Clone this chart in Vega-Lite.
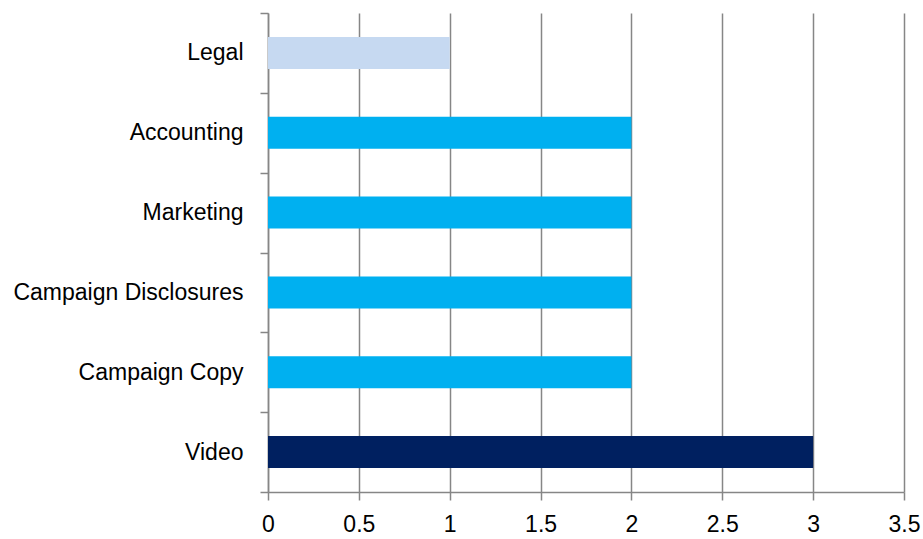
{
  "$schema": "https://vega.github.io/schema/vega-lite/v6.json",
  "width": 636,
  "height": 479,
  "autosize": {"type": "none"},
  "padding": {"left": 268, "top": 13, "right": 19, "bottom": 47},
  "background": "white",
  "data": {
    "values": [
      {"category": "Legal", "value": 1, "group": "a"},
      {"category": "Accounting", "value": 2, "group": "b"},
      {"category": "Marketing", "value": 2, "group": "b"},
      {"category": "Campaign Disclosures", "value": 2, "group": "b"},
      {"category": "Campaign Copy", "value": 2, "group": "b"},
      {"category": "Video", "value": 3, "group": "c"}
    ]
  },
  "config": {
    "view": {"stroke": null},
    "font": "Liberation Sans"
  },
  "mark": {"type": "bar", "height": {"band": 0.4}},
  "encoding": {
    "y": {
      "field": "category",
      "type": "nominal",
      "sort": null,
      "scale": {"paddingInner": 0, "paddingOuter": 0},
      "axis": {
        "title": null,
        "domainColor": "#868686",
        "domainWidth": 1.5,
        "tickColor": "#868686",
        "tickWidth": 1.5,
        "tickSize": 8,
        "tickBand": "extent",
        "labelPadding": 17,
        "labelFontSize": 23,
        "labelLimit": 300,
        "labelColor": "#000000",
        "grid": false
      }
    },
    "x": {
      "field": "value",
      "type": "quantitative",
      "scale": {"domain": [0, 3.5], "nice": false},
      "axis": {
        "title": null,
        "values": [0, 0.5, 1, 1.5, 2, 2.5, 3, 3.5],
        "format": "~g",
        "domainColor": "#868686",
        "domainWidth": 1.5,
        "tickColor": "#868686",
        "tickWidth": 1.5,
        "tickSize": 8,
        "grid": true,
        "gridColor": "#868686",
        "gridWidth": 1.5,
        "labelPadding": 13,
        "labelFontSize": 23,
        "labelColor": "#000000",
        "labelFlush": false
      }
    },
    "color": {
      "field": "group",
      "type": "nominal",
      "scale": {"domain": ["a", "b", "c"], "range": ["#C6D9F1", "#00B0F0", "#002060"]},
      "legend": null
    }
  }
}
